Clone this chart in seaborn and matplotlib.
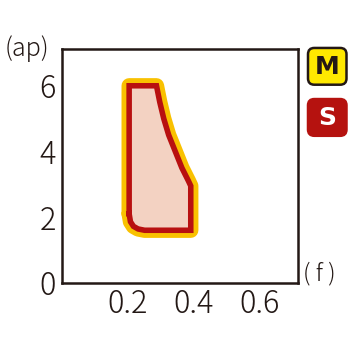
import matplotlib
matplotlib.use("Agg")
import matplotlib.pyplot as plt
import seaborn as sns
import pandas as pd
from matplotlib.patches import FancyBboxPatch

# Outline of the cutting region (feed f, depth ap)
f_vals = [0.205, 0.205, 0.288, 0.298, 0.310, 0.325, 0.345, 0.365, 0.385, 0.392, 0.392, 0.252, 0.232, 0.218, 0.209, 0.205]
ap_vals = [2.1, 6.0, 6.0, 5.5, 5.0, 4.5, 4.0, 3.5, 3.1, 2.95, 1.6, 1.6, 1.64, 1.72, 1.86, 2.1]
x_ticks = [0.2, 0.4, 0.6]
y_ticks = [0, 2, 4, 6]
legend_labels = ["M", "S"]

sns.set_theme(style="white")
plt.rcParams['font.family'] = ['Noto Sans CJK JP', 'DejaVu Sans']

ink = "#231815"
yellow = "#F9C100"
red = "#B81010"
fill_c = "#F3D2C2"

fig = plt.figure(figsize=(3.5, 3.5), dpi=100)
ax = fig.add_axes([0.176, 0.192, 0.675, 0.668])

df = pd.DataFrame({"f": f_vals, "ap": ap_vals})
sns.lineplot(data=df, x="f", y="ap", sort=False, estimator=None, ax=ax,
             color=yellow, linewidth=11, solid_joinstyle="round", solid_capstyle="round", zorder=2)
ax.fill(df["f"], df["ap"], color=fill_c, zorder=3, linewidth=0)
sns.lineplot(data=df, x="f", y="ap", sort=False, estimator=None, ax=ax,
             color=red, linewidth=4, solid_joinstyle="miter", solid_capstyle="projecting", zorder=4)

ax.set_xlim(0, 0.717)
ax.set_ylim(0, 7.12)
ax.set_xticks(x_ticks)
ax.set_xticklabels([f"{v:.1f}" for v in x_ticks])
ax.set_yticks(y_ticks)
ax.set_yticklabels([str(v) for v in y_ticks])
ax.set_xlabel("")
ax.set_ylabel("")
ax.tick_params(axis="both", direction="in", length=9, width=1.6, colors=ink,
               labelsize=22, labelcolor=ink)
ax.tick_params(axis="x", pad=4)
ax.tick_params(axis="y", pad=4)
for lbl in ax.get_xticklabels() + ax.get_yticklabels():
    lbl.set_fontweight("light")
for s in ax.spines.values():
    s.set_color(ink)
    s.set_linewidth(1.8)
    s.set_visible(True)
ax.grid(False)

fig.text(0.012, 0.862, "( ap )".replace(" ", ""), fontsize=18, fontweight="light", color=ink, va="center", ha="left")
fig.text(0.866, 0.218, "( f )", fontsize=17, fontweight="light", color=ink, va="center", ha="left")

# M / S badges
badges = [(legend_labels[0], "#FFE800", ink, ink, 0.758), (legend_labels[1], "#B5120F", "white", "#B5120F", 0.612)]
for lab, fc, tc, ec, y0 in badges:
    box = FancyBboxPatch((0.880, y0), 0.110, 0.105, boxstyle="round,pad=0,rounding_size=0.018",
                         transform=fig.transFigure, facecolor=fc, edgecolor=ec, linewidth=1.8)
    fig.patches.append(box)
    fig.text(0.935, y0 + 0.052, lab, fontsize=18, fontweight="bold", color=tc,
             ha="center", va="center", family=["DejaVu Sans"])

fig.savefig("out.png", dpi=100)
